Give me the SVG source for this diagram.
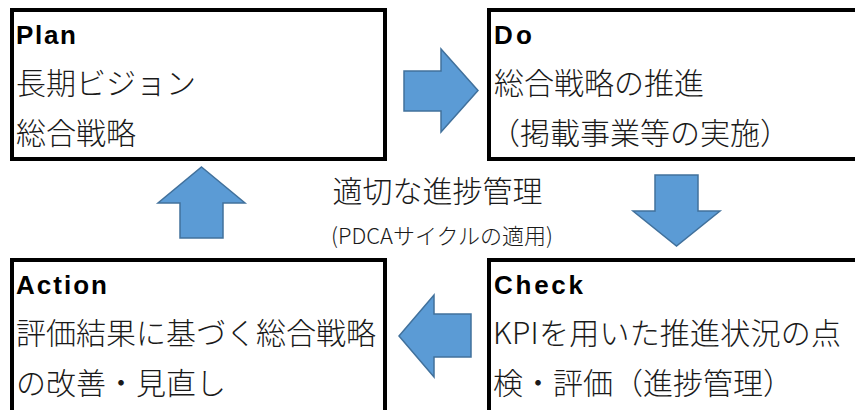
<svg xmlns="http://www.w3.org/2000/svg" width="855" height="410" viewBox="0 0 855 410">
<style>
.box{fill:#fff;stroke:#000;stroke-width:4}
.arrow{fill:#5b9bd5;stroke:#41719c;stroke-width:1.5;stroke-linejoin:miter}
.head{font-family:"Liberation Sans",Arial,sans-serif;font-weight:bold;font-size:26px;fill:#000}
.body{font-family:"Noto Sans CJK JP","Noto Sans",sans-serif;font-weight:300;font-size:30px;fill:#1a1a1a}
.mid{font-family:"Noto Sans CJK JP","Noto Sans",sans-serif;font-weight:300;fill:#1a1a1a;text-anchor:middle}
</style>
<rect width="855" height="410" fill="#fff"/>
<g id="plan">
<rect class="box" x="12" y="10" width="373" height="149"/>
<text class="head" x="16" y="44" textLength="60" lengthAdjust="spacing">Plan</text>
<text class="body" x="16" y="94">長期ビジョン</text>
<text class="body" x="16" y="144">総合戦略</text>
</g>
<g id="do">
<rect class="box" x="489" y="10" width="400" height="149"/>
<text class="head" x="494" y="44" textLength="38" lengthAdjust="spacing">Do</text>
<text class="body" x="494" y="94">総合戦略の推進</text>
<text class="body" x="490" y="144">（掲載事業等の実施）</text>
</g>
<g id="action">
<rect class="box" x="12" y="260" width="373" height="200"/>
<text class="head" x="16" y="294" textLength="91" lengthAdjust="spacing">Action</text>
<text class="body" x="16" y="344">評価結果に基づく総合戦略</text>
<text class="body" x="16" y="394">の改善・見直し</text>
</g>
<g id="check">
<rect class="box" x="489" y="260" width="400" height="200"/>
<text class="head" x="494" y="294" textLength="89" lengthAdjust="spacing">Check</text>
<text class="body" x="493" y="344" font-size="29" textLength="348" lengthAdjust="spacing">KPIを用いた推進状況の点</text>
<text class="body" x="493" y="394" font-size="29">検・評価（進捗管理）</text>
</g>
<g id="center">
<text class="mid" x="437.5" y="202" font-size="30">適切な進捗管理</text>
<text class="mid" x="442" y="244" font-size="22" textLength="222" lengthAdjust="spacing">(PDCAサイクルの適用)</text>
</g>
<g id="connectors">
<polygon class="arrow" points="404,71 441,71 441,49 478,90.5 441,132 441,111 404,111"/>
<polygon class="arrow" points="655,175 698,175 698,211 720,211 676.5,246 633,211 655,211"/>
<polygon class="arrow" points="434,295 434,314 471,314 471,357 434,357 434,377 399,336"/>
<polygon class="arrow" points="201.5,167 245,203 223,203 223,238 180,238 180,203 158,203"/>
</g>
</svg>
